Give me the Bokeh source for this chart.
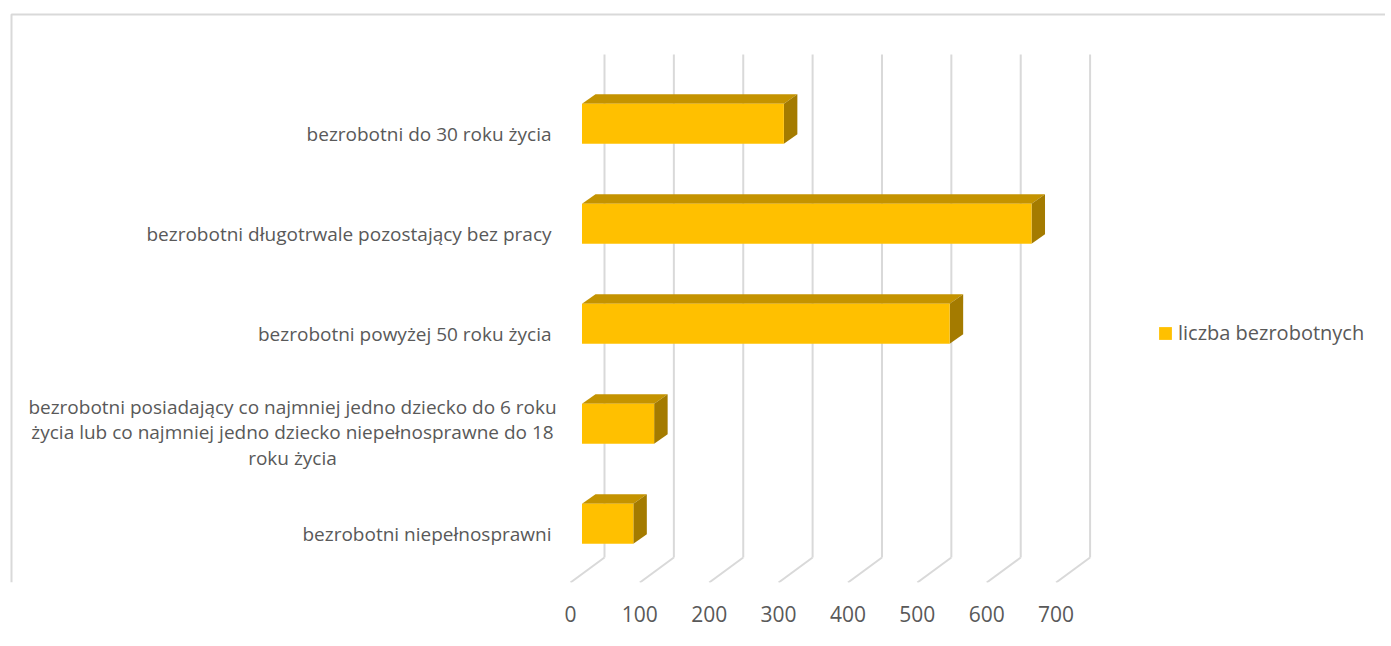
from bokeh.plotting import figure
from bokeh.models import Range1d, FixedTicker, Legend, LegendItem
from bokeh.core.properties import value
from bokeh.embed import file_html
from bokeh.resources import INLINE

# ---- data ----
categories = [
    "bezrobotni niepełnosprawni",
    "bezrobotni posiadający co najmniej jedno dziecko do 6 roku\nżycia lub co najmniej jedno dziecko niepełnosprawne do 18\nroku życia",
    "bezrobotni powyżej 50 roku życia",
    "bezrobotni długotrwale pozostający bez pracy",
    "bezrobotni do 30 roku życia",
]
values = [74, 104, 530, 648, 291]
ticks = [0, 100, 200, 300, 400, 500, 600, 700]
series_name = "liczba bezrobotnych"

# ---- geometry (pixel-based conversion) ----
W, H = 1385, 640
SX = 0.6937          # px per value unit
SY = 100.0           # px per category unit
X0_PX = 570          # figure px of value 0 on the front plane
FLOOR_PX = 582       # figure px (from top) of the front floor edge
BOTTOM_BORDER = H - FLOOR_PX

x_start = -X0_PX / SX
x_end = x_start + W / SX
y_end = FLOOR_PX / SY

DEPTH_X = 34 / SX     # full floor depth (back wall offset)
DEPTH_Y = 25 / SY
FACE_X = 11.5 / SX    # bar front face offset from front plane
FACE_Y = 8.8 / SY
BAR_DX = 13.5 / SX    # bar depth
BAR_DY = 9.5 / SY
BAR_H = 0.40
WALL_TOP = (FLOOR_PX - 54) / SY

FRONT = "#FFC000"
TOP = "#C49300"
SIDE = "#A47B00"
GRID = "#D9D9D9"
TXT = "#595959"
FONT = "Open Sans"

p = figure(width=W, height=H, output_backend="svg", toolbar_location=None,
           x_range=Range1d(x_start, x_end), y_range=Range1d(0, y_end),
           min_border_left=0, min_border_right=0, min_border_top=0,
           min_border_bottom=BOTTOM_BORDER)
p.outline_line_color = None
p.grid.visible = False
p.yaxis.visible = False
p.background_fill_color = "white"
p.border_fill_color = "white"

# chart border (light gray)
bx = x_start + 11 / SX
by = y_end - 14 / SY
p.line([bx, bx, x_end + 10], [0, by, by], line_color="#D9D9D9", line_width=2)

# back wall gridlines and floor lines
p.segment(x0=[t + DEPTH_X for t in ticks], y0=[DEPTH_Y] * len(ticks),
          x1=[t + DEPTH_X for t in ticks], y1=[WALL_TOP] * len(ticks),
          line_color=GRID, line_width=2)
p.segment(x0=ticks, y0=[0] * len(ticks),
          x1=[t + DEPTH_X for t in ticks], y1=[DEPTH_Y] * len(ticks),
          line_color=GRID, line_width=2)

# bars
centers = [i + 0.5 for i in range(len(categories))]
left = [FACE_X] * len(values)
right = [v + FACE_X for v in values]
bottom = [c + FACE_Y - BAR_H / 2 for c in centers]
top = [c + FACE_Y + BAR_H / 2 for c in centers]

top_xs = [[l, r, r + BAR_DX, l + BAR_DX] for l, r in zip(left, right)]
top_ys = [[t, t, t + BAR_DY, t + BAR_DY] for t in top]
side_xs = [[r, r, r + BAR_DX, r + BAR_DX] for r in right]
side_ys = [[b, t, t + BAR_DY, b + BAR_DY] for b, t in zip(bottom, top)]

p.patches(top_xs, top_ys, fill_color=TOP, line_color=None)
p.patches(side_xs, side_ys, fill_color=SIDE, line_color=None)
front = p.quad(left=left, right=right, bottom=bottom, top=top,
               fill_color=FRONT, line_color=None)

# category labels
label_right = (551 - 570) / SX
single = [(c, cat) for c, cat in zip(centers, categories) if "\n" not in cat]
multi = [(c, cat) for c, cat in zip(centers, categories) if "\n" in cat]
p.text(x=[label_right] * len(single), y=[s[0] - 0.01 for s in single],
       text=[s[1] for s in single], text_align="right", text_baseline="middle",
       text_font=value(FONT), text_font_size="19px", text_color=TXT)
multi_center = (292 - 570) / SX
p.text(x=[multi_center] * len(multi), y=[m[0] for m in multi],
       text=[m[1] for m in multi], text_align="center", text_baseline="middle",
       text_font=value(FONT), text_font_size="19px", text_color=TXT,
       text_line_height=0.98)

# x axis
ax = p.xaxis[0]
ax.ticker = FixedTicker(ticks=ticks)
ax.axis_line_color = None
ax.major_tick_line_color = None
ax.minor_tick_line_color = None
ax.major_tick_out = 0
ax.major_label_standoff = 23
ax.major_label_text_font = FONT
ax.major_label_text_font_size = "21px"
ax.major_label_text_color = TXT

# legend
legend = Legend(items=[LegendItem(label=series_name, renderers=[front])],
                location=(1157, 236), orientation="vertical",
                glyph_width=16, glyph_height=16, label_standoff=5,
                padding=0, margin=0, spacing=0,
                border_line_color=None, background_fill_alpha=0,
                label_text_font=FONT, label_text_font_size="20px",
                label_text_color=TXT)
p.add_layout(legend)

open("out.html", "w").write(file_html(p, INLINE))
